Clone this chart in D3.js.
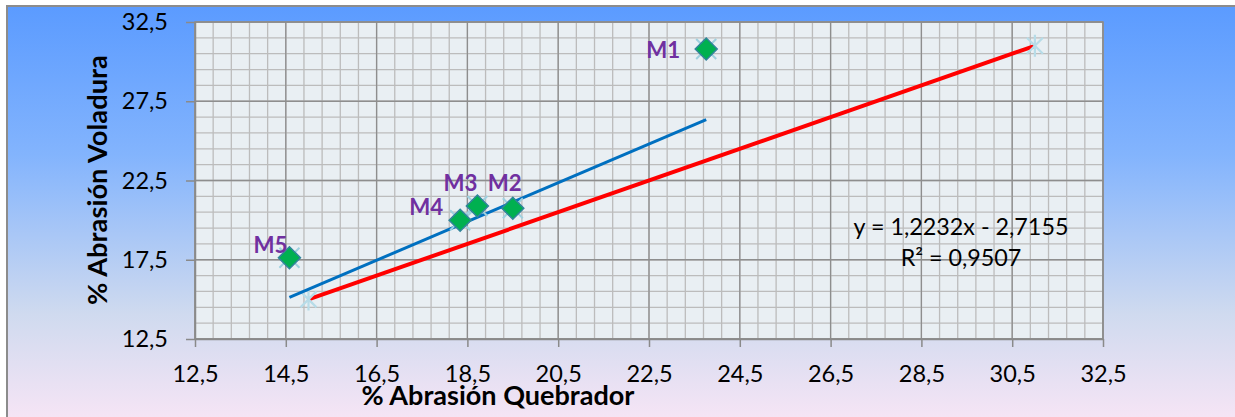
<!DOCTYPE html>
<html>
<head>
<meta charset="utf-8">
<script src="https://cdn.jsdelivr.net/npm/d3@7"></script>
<style>
html,body{margin:0;padding:0;background:#fff;}
svg{display:block;}
text{font-family:Lato,"Open Sans",sans-serif;}
</style>
</head>
<body>
<svg id="chart" width="1235" height="417"></svg>
<script>
// ---- data ----
const pointLabels = ["M1", "M2", "M3", "M4", "M5"];
const quebrador = [23.76, 19.5, 18.72, 18.34, 14.58];
const voladura = [30.8, 20.75, 20.89, 19.99, 17.63];
const identityX = [15, 31];
const identityY = [15, 31];
const trendSlope = 1.2232;
const trendIntercept = -2.7155;
const trendR2 = 0.9507;
const xTicks = [12.5, 14.5, 16.5, 18.5, 20.5, 22.5, 24.5, 26.5, 28.5, 30.5, 32.5];
const yTicks = [12.5, 17.5, 22.5, 27.5, 32.5];
const xTitle = "% Abrasión Quebrador";
const yTitle = "% Abrasión Voladura";

// ---- layout ----
const W = 1235, H = 417;
const plot = {left: 195, right: 1103, top: 22, bottom: 339};
const labelOffsets = [[-43, 1], [-8, -25], [-17, -23], [-34, -13], [-19, -13]];

const svg = d3.select("#chart");
const fmt = v => d3.format(".1f")(v).replace(".", ",");

const x = d3.scaleLinear().domain([12.5, 32.5]).range([plot.left, plot.right]);
const y = d3.scaleLinear().domain([12.5, 32.5]).range([plot.bottom, plot.top]);

// background gradient
const defs = svg.append("defs");
const g = defs.append("linearGradient").attr("id", "bg").attr("x1", 0).attr("y1", 0).attr("x2", 0).attr("y2", 1);
g.append("stop").attr("offset", "0%").attr("stop-color", "#5b9bff");
g.append("stop").attr("offset", "35%").attr("stop-color", "#83b4fd");
g.append("stop").attr("offset", "72%").attr("stop-color", "#cfdaef");
g.append("stop").attr("offset", "100%").attr("stop-color", "#fbe6f6");

svg.append("rect").attr("x", 7).attr("y", 6).attr("width", W + 10).attr("height", H + 10)
  .attr("fill", "url(#bg)").attr("stroke", "#8c8c8c").attr("stroke-width", 2);

// plot area
svg.append("rect").attr("x", plot.left).attr("y", plot.top)
  .attr("width", plot.right - plot.left).attr("height", plot.bottom - plot.top)
  .attr("fill", "#e9eff3");

// grid
const minorX = d3.range(12.5, 32.5 + 1e-6, 0.4);
const minorY = d3.range(12.5, 32.5 + 1e-6, 1);
const grid = svg.append("g");
grid.selectAll(".mx").data(minorX).join("line")
  .attr("x1", d => x(d)).attr("x2", d => x(d)).attr("y1", plot.top).attr("y2", plot.bottom)
  .attr("stroke", "#bcbcbc").attr("stroke-width", 1.3);
grid.selectAll(".my").data(minorY).join("line")
  .attr("y1", d => y(d)).attr("y2", d => y(d)).attr("x1", plot.left).attr("x2", plot.right)
  .attr("stroke", "#bcbcbc").attr("stroke-width", 1.3);
grid.selectAll(".Mx").data(xTicks).join("line")
  .attr("x1", d => x(d)).attr("x2", d => x(d)).attr("y1", plot.top).attr("y2", plot.bottom)
  .attr("stroke", "#8e8e8e").attr("stroke-width", 1.3);
grid.selectAll(".My").data(yTicks).join("line")
  .attr("y1", d => y(d)).attr("y2", d => y(d)).attr("x1", plot.left).attr("x2", plot.right)
  .attr("stroke", "#8e8e8e").attr("stroke-width", 1.3);

svg.append("rect").attr("x", plot.left).attr("y", plot.top)
  .attr("width", plot.right - plot.left).attr("height", plot.bottom - plot.top)
  .attr("fill", "none").attr("stroke", "#8a8a8a").attr("stroke-width", 1.5);

// axes
const xAxis = d3.axisBottom(x).tickValues(xTicks).tickFormat(fmt).tickSize(8).tickSizeOuter(0).tickPadding(18);
const yAxis = d3.axisLeft(y).tickValues(yTicks).tickFormat(fmt).tickSize(9).tickSizeOuter(0).tickPadding(18);
const gx = svg.append("g").attr("transform", `translate(0,${plot.bottom})`).call(xAxis);
const gy = svg.append("g").attr("transform", `translate(${plot.left},0)`).call(yAxis);
[gx, gy].forEach(a => {
  a.select(".domain").attr("stroke", "#8a8a8a").attr("stroke-width", 1.5);
  a.selectAll(".tick line").attr("stroke", "#8a8a8a").attr("stroke-width", 1.5);
  a.selectAll(".tick text").attr("fill", "#000").style("font-size", "23.5px").style("font-family", "Lato");
});

function fit(sel, w) {
  const n = sel.node();
  const fs = parseFloat(sel.style("font-size"));
  const len = n.getComputedTextLength();
  if (len > 0) sel.style("font-size", (fs * w / len) + "px");
}

// titles
const xt = svg.append("text").attr("x", 498).attr("y", 405).attr("text-anchor", "middle")
  .style("font-weight", "bold").style("font-size", "22px").attr("fill", "#000").text(xTitle);
fit(xt, 273);
const yt = svg.append("text").attr("transform", "translate(107,180) rotate(-90)").attr("text-anchor", "middle")
  .style("font-weight", "bold").style("font-size", "22px").attr("fill", "#000").text(yTitle);
fit(yt, 250);

// identity line (red)
const idData = identityX.map((d, i) => [d, identityY[i]]);
const line = d3.line().x(d => x(d[0])).y(d => y(d[1]));
svg.append("path").datum(idData).attr("d", line).attr("fill", "none")
  .attr("stroke", "#ff0000").attr("stroke-width", 4);

// star markers on identity series
const starPath = "M-8,-8L8,8M-8,8L8,-8M0,-11L0,11";
svg.selectAll(".star").data(idData).join("path")
  .attr("transform", d => `translate(${x(d[0])},${y(d[1])})`)
  .attr("d", starPath).attr("stroke", "#b7dce8").attr("stroke-width", 2.2).attr("fill", "none");

// trendline (blue)
const pts = quebrador.map((d, i) => [d, voladura[i]]);
const [xmin, xmax] = d3.extent(quebrador);
const trend = [xmin, xmax].map(v => [v, trendSlope * v + trendIntercept]);
svg.append("path").datum(trend).attr("d", line).attr("fill", "none")
  .attr("stroke", "#0070c0").attr("stroke-width", 3);

// cross markers
const crossPath = "M-10,-10L10,10M-10,10L10,-10";
svg.selectAll(".cross").data(pts).join("path")
  .attr("transform", d => `translate(${x(d[0])},${y(d[1])})`)
  .attr("d", crossPath).attr("stroke", "#9fd0df").attr("stroke-width", 2).attr("fill", "none");

// diamonds
const diamond = "M0,-11L11,0L0,11L-11,0Z";
svg.selectAll(".dia").data(pts).join("path")
  .attr("transform", d => `translate(${x(d[0])},${y(d[1])})`)
  .attr("d", diamond).attr("fill", "#00b050").attr("stroke", "#31849b").attr("stroke-width", 1.5);

// point labels
svg.selectAll(".plabel").data(pts).join("text")
  .attr("x", (d, i) => x(d[0]) + labelOffsets[i][0])
  .attr("y", (d, i) => y(d[1]) + labelOffsets[i][1])
  .attr("text-anchor", "middle").attr("dy", "0.36em")
  .style("font-weight", "bold").style("font-size", "19px").attr("fill", "#7030a0")
  .text((d, i) => pointLabels[i])
  .each(function() { fit(d3.select(this), 34); });

// equation
const eq = svg.append("text").attr("x", 961).attr("y", 235).attr("text-anchor", "middle")
  .style("font-size", "21px").attr("fill", "#000")
  .text(`y = ${String(trendSlope).replace(".", ",")}x - ${String(-trendIntercept).replace(".", ",")}`);
fit(eq, 215);
svg.append("text").attr("x", 961).attr("y", 266).attr("text-anchor", "middle")
  .style("font-size", eq.style("font-size")).attr("fill", "#000")
  .text(`R² = ${String(trendR2).replace(".", ",")}`);
</script>
</body>
</html>
